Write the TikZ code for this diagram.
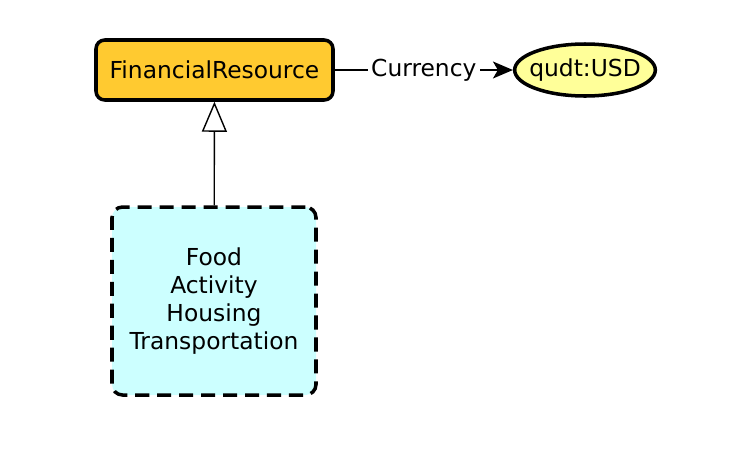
\documentclass[tikz,border=0pt]{standalone}
\usepackage{fontspec}
\setmainfont{DejaVu Sans}
\usetikzlibrary{shapes.geometric, arrows.meta, positioning}
\definecolor{mygold}{RGB}{255,202,48}
\definecolor{myyellow}{RGB}{255,255,153}
\definecolor{mycyan}{RGB}{204,255,255}
\tikzset{
  classbox/.style={rectangle, draw=black, fill=mygold,
    minimum width=4.74cm, minimum height=1.2cm,
    font=\fontsize{13.3}{16}\selectfont, rounded corners=5pt, line width=2pt},
  valuenode/.style={ellipse, draw=black, fill=myyellow,
    minimum width=2.8cm, minimum height=1.04cm, inner xsep=-0.12cm, inner ysep=0pt,
    font=\fontsize{13.3}{16}\selectfont, line width=2pt},
  kindbox/.style={rectangle, draw=black, fill=mycyan, align=center,
    minimum width=4.08cm, minimum height=3.76cm,
    font=\fontsize{13.3}{15.8}\selectfont, rounded corners=6pt, line width=2pt,
    dash pattern=on 8pt off 4.5pt},
  arrow/.style={-{Stealth[length=0.4cm, width=0.34cm, inset=0.1cm]}, thick, color=black},
  subarrow/.style={-{Triangle[open, length=0.6cm, width=0.5cm, fill=white]}, thick, color=black},
  edgelabel/.style={fill=white, inner sep=2pt, font=\fontsize{13.3}{16}\selectfont}
}
\begin{document}
\begin{tikzpicture}
  \useasboundingbox (0,0) rectangle (14.64,-9);
  \node[classbox] (fin) at (4.29,-1.4) {FinancialResource};
  \node[valuenode] (usd) at (11.7,-1.4) {qudt:USD};
  \node[kindbox] (kinds) at (4.28,-6.02) {Food\\Activity\\Housing\\Transportation};
  \draw[arrow] (fin) -- node[edgelabel] {Currency} (usd);
  \draw[subarrow] (kinds) -- (fin);
\end{tikzpicture}
\end{document}
